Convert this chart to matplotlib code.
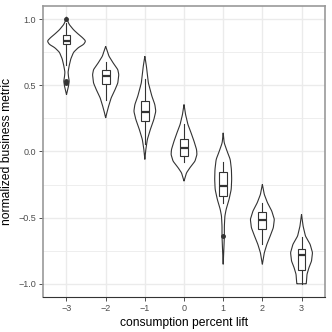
import numpy as np
import matplotlib
matplotlib.use("Agg")
import matplotlib.pyplot as plt

plt.rcParams['font.family'] = ['Liberation Sans', 'DejaVu Sans']

# consumption percent lift groups
lift = [-3, -2, -1, 0, 1, 2, 3]

# violin outlines: metric value and half width (density)
viol_y = [
    [1.017, 0.99, 0.96, 0.92, 0.89, 0.86, 0.835, 0.81, 0.785, 0.75, 0.70, 0.65, 0.60, 0.568, 0.531, 0.493, 0.43],
    [0.795, 0.72, 0.67, 0.619, 0.581, 0.518, 0.468, 0.405, 0.342, 0.292, 0.254],
    [0.72, 0.644, 0.518, 0.418, 0.355, 0.304, 0.242, 0.166, 0.091, 0.015, -0.06],
    [0.355, 0.279, 0.204, 0.141, 0.078, 0.015, -0.023, -0.073, -0.123, -0.161, -0.224],
    [0.141, 0.066, 0.002, -0.06, -0.136, -0.211, -0.287, -0.362, -0.438, -0.488, -0.564, -0.639, -0.715, -0.853],
    [-0.249, -0.325, -0.387, -0.45, -0.513, -0.576, -0.639, -0.702, -0.765, -0.853],
    [-0.475, -0.564, -0.639, -0.702, -0.765, -0.828, -0.878, -0.928, -0.986, -1.0],
]
viol_w = [
    [0.0, 0.025, 0.07, 0.18, 0.29, 0.41, 0.49, 0.44, 0.30, 0.18, 0.11, 0.07, 0.04, 0.05, 0.07, 0.05, 0.0],
    [0.0, 0.085, 0.19, 0.31, 0.335, 0.31, 0.24, 0.14, 0.075, 0.03, 0.0],
    [0.0, 0.04, 0.09, 0.18, 0.255, 0.28, 0.23, 0.14, 0.064, 0.025, 0.0],
    [0.0, 0.04, 0.10, 0.18, 0.255, 0.32, 0.33, 0.28, 0.15, 0.064, 0.0],
    [0.0, 0.025, 0.10, 0.18, 0.21, 0.217, 0.205, 0.15, 0.075, 0.043, 0.03, 0.03, 0.02, 0.0],
    [0.0, 0.05, 0.13, 0.24, 0.306, 0.28, 0.20, 0.115, 0.05, 0.0],
    [0.0, 0.04, 0.10, 0.22, 0.28, 0.255, 0.19, 0.14, 0.125, 0.12],
]

# box plot summaries
q1 = [0.81, 0.513, 0.234, -0.035, -0.337, -0.584, -0.898]
med = [0.833, 0.568, 0.297, 0.023, -0.264, -0.515, -0.78]
q3 = [0.883, 0.614, 0.38, 0.096, -0.152, -0.458, -0.74]
whis_lo = [0.657, 0.39, 0.06, -0.08, -0.39, -0.70, -1.0]
whis_hi = [0.971, 0.68, 0.55, 0.21, -0.078, -0.39, -0.65]
outliers = [[1.0, 0.53, 0.52], [], [], [], [-0.64], [], []]


def smooth_outline(ys, ws, flat_bottom=False):
    ys = np.asarray(ys)[::-1]
    ws = np.asarray(ws)[::-1]
    fine = np.linspace(ys[0], ys[-1], 300)
    hw = np.interp(fine, ys, ws)
    k = np.ones(9) / 9
    pad = np.concatenate([np.full(4, hw[0]), hw, np.full(4, hw[-1])])
    hw = np.convolve(pad, k, mode='valid')
    if not flat_bottom:
        hw[0] = 0
    hw[-1] = 0
    return fine, hw


fig = plt.figure(figsize=(3.32, 3.32), dpi=100)
ax = fig.add_axes([0.1295, 0.1054, 0.8495, 0.8766])

for i, x in enumerate(lift):
    yy, hw = smooth_outline(viol_y[i], viol_w[i], flat_bottom=(i == 6))
    xs = np.concatenate([x + hw, (x - hw)[::-1]])
    ys = np.concatenate([yy, yy[::-1]])
    ax.fill(xs, ys, facecolor='white', edgecolor='#333333', linewidth=0.8, zorder=2)

stats = []
for i in range(len(lift)):
    stats.append(dict(med=med[i], q1=q1[i], q3=q3[i], whislo=whis_lo[i],
                      whishi=whis_hi[i], fliers=outliers[i]))
ax.bxp(stats, positions=lift, widths=0.2, showcaps=False, patch_artist=True,
       boxprops=dict(facecolor='white', edgecolor='#333333', linewidth=0.8),
       whiskerprops=dict(color='#333333', linewidth=0.8),
       medianprops=dict(color='#333333', linewidth=1.6),
       flierprops=dict(marker='o', markersize=2.5, markerfacecolor='#333333',
                       markeredgecolor='#333333'),
       manage_ticks=False, zorder=3)

ax.set_xlim(-3.6, 3.6)
ax.set_ylim(-1.1, 1.1)
ax.set_xticks(lift)
ax.set_xticklabels([str(v).replace('-', '\u2212') for v in lift])
ax.set_yticks([-1.0, -0.5, 0.0, 0.5, 1.0])
ax.set_yticklabels(['\u22121.0', '\u22120.5', '0.0', '0.5', '1.0'])
ax.set_yticks([-0.75, -0.25, 0.25, 0.75], minor=True)

ax.grid(True, which='major', color='#ebebeb', linewidth=1.0, zorder=0)
ax.grid(True, which='minor', axis='y', color='#ebebeb', linewidth=0.6, zorder=0)
ax.set_axisbelow(True)

ax.tick_params(axis='both', which='major', labelsize=6.5, labelcolor='#4d4d4d',
               color='#333333', length=3, width=0.6, pad=2)
ax.tick_params(axis='both', which='minor', length=0)

for side in ['top', 'right', 'left']:
    ax.spines[side].set_color('#999999')
    ax.spines[side].set_linewidth(1.2)
ax.spines['bottom'].set_color('#333333')
ax.spines['bottom'].set_linewidth(0.8)

ax.set_xlabel('consumption percent lift', fontsize=8.7, labelpad=3)
ax.set_ylabel('normalized business metric', fontsize=8.7, labelpad=4)

fig.savefig('out.png', dpi=100)
